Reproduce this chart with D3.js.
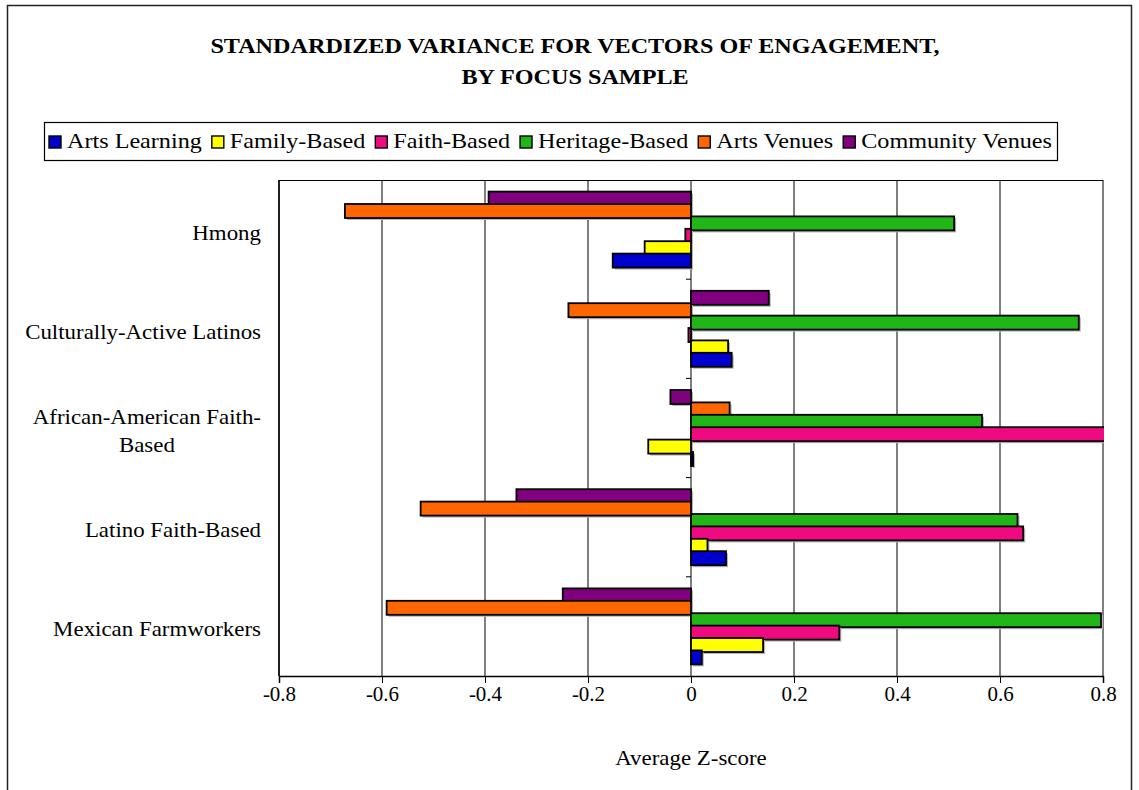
<!DOCTYPE html>
<html>
<head>
<meta charset="utf-8">
<script src="https://cdn.jsdelivr.net/npm/d3@7"></script>
<style>
  body { margin: 0; background: #fff; }
  text { font-family: "Liberation Serif", "DejaVu Serif", serif; fill: #000; }
</style>
</head>
<body>
<div id="chart"></div>
<script>
// Plot constants
const WIDTH = 1139;
const HEIGHT = 790;

// Data
const categories = [
  "Hmong",
  "Culturally-Active Latinos",
  "African-American Faith-Based",
  "Latino Faith-Based",
  "Mexican Farmworkers",
];
const seriesNames = [
  "Arts Learning",
  "Family-Based",
  "Faith-Based",
  "Heritage-Based",
  "Arts Venues",
  "Community Venues",
];
const artsLearning = [-0.152, 0.079, 0.004, 0.068, 0.021];
const familyBased = [-0.09, 0.072, -0.083, 0.032, 0.14];
const faithBased = [-0.011, -0.005, 0.86, 0.645, 0.288];
const heritageBased = [0.511, 0.753, 0.565, 0.634, 0.796];
const artsVenues = [-0.672, -0.238, 0.075, -0.525, -0.591];
const communityVenues = [-0.393, 0.151, -0.04, -0.339, -0.249];
const seriesColors = ["#0000cc", "#ffff00", "#f00a82", "#22b518", "#ff6600", "#800080"];
const xTicks = [-0.8, -0.6, -0.4, -0.2, 0, 0.2, 0.4, 0.6, 0.8];

const seriesValues = [artsLearning, familyBased, faithBased, heritageBased, artsVenues, communityVenues];

// layout
const plot = {left: 279, right: 1103, top: 180, bottom: 676};
const STRETCH = 1.09; // original font (Garamond) runs wider than Liberation Serif

const svg = d3.select("#chart").append("svg")
  .attr("width", WIDTH)
  .attr("height", HEIGHT);

// stretch a text element horizontally by a factor
function widen(sel, f) {
  sel.each(function () {
    const w = this.getComputedTextLength();
    d3.select(this).attr("textLength", w * f).attr("lengthAdjust", "spacingAndGlyphs");
  });
}

// outer chart border
svg.append("rect")
  .attr("x", 7.5).attr("y", 5.5)
  .attr("width", 1124).attr("height", 800)
  .attr("fill", "none")
  .attr("stroke", "#222")
  .attr("stroke-width", 1.5);

// Title
const titleLines = ["STANDARDIZED VARIANCE FOR VECTORS OF ENGAGEMENT,", "BY FOCUS SAMPLE"];
svg.append("g").selectAll("text")
  .data(titleLines)
  .join("text")
  .attr("x", 575)
  .attr("y", (d, i) => 53 + i * 31)
  .attr("text-anchor", "middle")
  .attr("font-weight", "bold")
  .attr("font-size", "21px")
  .text((d) => d)
  .call(widen, 1.15);

// Scales
const x = d3.scaleLinear().domain([-0.8, 0.8]).range([plot.left, plot.right]);
const y = d3.scaleBand().domain(categories).range([plot.top, plot.bottom]);
// series are drawn bottom-up inside each band (last series on top), bars overlap a little
const ySeries = d3.scalePoint().domain(d3.reverse(seriesNames)).range([-31, 31]);
const barH = 14;

// gridlines
svg.append("g")
  .selectAll("line")
  .data(xTicks)
  .join("line")
  .attr("x1", (d) => x(d)).attr("x2", (d) => x(d))
  .attr("y1", plot.top).attr("y2", plot.bottom)
  .attr("stroke", "#000")
  .attr("stroke-width", 1);

// top border
svg.append("line")
  .attr("x1", plot.left).attr("x2", plot.right)
  .attr("y1", plot.top + 0.5).attr("y2", plot.top + 0.5)
  .attr("stroke", "#000");

// clip for bars
svg.append("defs").append("clipPath").attr("id", "plotclip")
  .append("rect")
  .attr("x", plot.left).attr("y", plot.top)
  .attr("width", plot.right - plot.left + 1)
  .attr("height", plot.bottom - plot.top);

const rows = [];
categories.forEach((c, i) => {
  seriesNames.slice().reverse().forEach((s) => {
    const k = seriesNames.indexOf(s);
    rows.push({cat: c, series: s, value: seriesValues[k][i], color: seriesColors[k]});
  });
});

const bars = svg.append("g").attr("clip-path", "url(#plotclip)");
const barG = bars.selectAll("g.bar")
  .data(rows)
  .join("g")
  .attr("class", "bar");

const bx = (d) => Math.min(x(0), x(d.value));
const bw = (d) => Math.max(1, Math.abs(x(d.value) - x(0)));
const by = (d) => y(d.cat) + y.bandwidth() / 2 + ySeries(d.series) - barH / 2;

// drop shadow
barG.append("rect")
  .attr("x", (d) => bx(d) + 2)
  .attr("y", (d) => by(d) + 2)
  .attr("width", bw)
  .attr("height", barH)
  .attr("fill", "#b5b5b5");

barG.append("rect")
  .attr("x", bx)
  .attr("y", by)
  .attr("width", bw)
  .attr("height", barH)
  .attr("fill", (d) => d.color)
  .attr("stroke", "#000")
  .attr("stroke-width", 1.8);

// category ticks on the zero line
svg.append("g")
  .selectAll("line")
  .data(categories.slice(1))
  .join("line")
  .attr("x1", x(0) - 5).attr("x2", x(0))
  .attr("y1", (d) => y(d)).attr("y2", (d) => y(d))
  .attr("stroke", "#000");

// left border
svg.append("line")
  .attr("x1", plot.left).attr("x2", plot.left)
  .attr("y1", plot.top).attr("y2", plot.bottom)
  .attr("stroke", "#000").attr("stroke-width", 1.5);

// x axis
const xAxis = d3.axisBottom(x).tickValues(xTicks).tickSize(7).tickPadding(3)
  .tickFormat((d) => (d === 0 ? "0" : d.toFixed(1)));
const xg = svg.append("g")
  .attr("transform", `translate(0,${plot.bottom})`)
  .call(xAxis);
xg.select(".domain").attr("stroke", "#000").attr("stroke-width", 1.5);
xg.selectAll(".tick line").attr("stroke", "#000");
xg.selectAll(".tick text")
  .attr("font-family", "Liberation Serif")
  .attr("font-size", "21px")
  .attr("fill", "#000");

svg.append("text")
  .attr("x", x(0)).attr("y", 765)
  .attr("text-anchor", "middle")
  .attr("font-size", "21px")
  .text("Average Z-score")
  .call(widen, STRETCH);

// category labels, wrapped to width, block right-aligned, lines centred
const labelRight = 261;
const maxLabelW = 240;
const lineH = 28;
categories.forEach((c) => {
  const t = svg.append("text").attr("font-size", "21px").attr("text-anchor", "middle");
  const pieces = c.split(/(?<=[- ])/);
  const lines = [];
  let cur = "";
  pieces.forEach((p) => {
    t.text(cur + p);
    if (cur && t.node().getComputedTextLength() * STRETCH > maxLabelW) {
      lines.push(cur.trimEnd());
      cur = p;
    } else {
      cur += p;
    }
  });
  lines.push(cur.trimEnd());
  t.text(null);
  const widths = lines.map((l) => {
    t.text(l);
    return t.node().getComputedTextLength();
  });
  t.text(null);
  const w = d3.max(widths) * STRETCH;
  const cx = labelRight - w / 2;
  const cy = y(c) + y.bandwidth() / 2 - ((lines.length - 1) * lineH) / 2 + 10;
  lines.forEach((l, i) => {
    t.append("tspan")
      .attr("x", cx)
      .attr("y", cy + i * lineH)
      .attr("textLength", widths[i] * STRETCH)
      .attr("lengthAdjust", "spacingAndGlyphs")
      .text(l);
  });
});

// Legend
const legendBox = {x: 44, y: 122, w: 1013, h: 38};
svg.append("rect")
  .attr("x", legendBox.x + 0.5).attr("y", legendBox.y + 0.5)
  .attr("width", legendBox.w).attr("height", legendBox.h)
  .attr("fill", "#fff")
  .attr("stroke", "#000")
  .attr("stroke-width", 1.2);

const legend = svg.append("g");
const sq = 12, sqGap = 6, itemGap = 10, pad = 5;
const items = legend.selectAll("g")
  .data(seriesNames)
  .join("g");
items.append("rect")
  .attr("width", sq).attr("height", sq)
  .attr("y", legendBox.y + legendBox.h / 2 - sq / 2 + 1)
  .attr("fill", (d, i) => seriesColors[i])
  .attr("stroke", "#000")
  .attr("stroke-width", 1.4);
const ltext = items.append("text")
  .attr("font-size", "21px")
  .attr("y", legendBox.y + legendBox.h / 2 + 7)
  .text((d) => d);
// stretch the legend text to fill the box like the original
const natW = ltext.nodes().map((n) => n.getComputedTextLength());
const fixedW = 2 * pad + seriesNames.length * (sq + sqGap) + (seriesNames.length - 1) * itemGap;
const k = (legendBox.w - fixedW) / d3.sum(natW);
let lx = legendBox.x + pad;
items.each(function (d, i) {
  const gi = d3.select(this);
  gi.select("rect").attr("x", lx);
  gi.select("text")
    .attr("x", lx + sq + sqGap)
    .attr("textLength", natW[i] * k)
    .attr("lengthAdjust", "spacingAndGlyphs");
  lx += sq + sqGap + natW[i] * k + itemGap;
});
</script>
</body>
</html>
